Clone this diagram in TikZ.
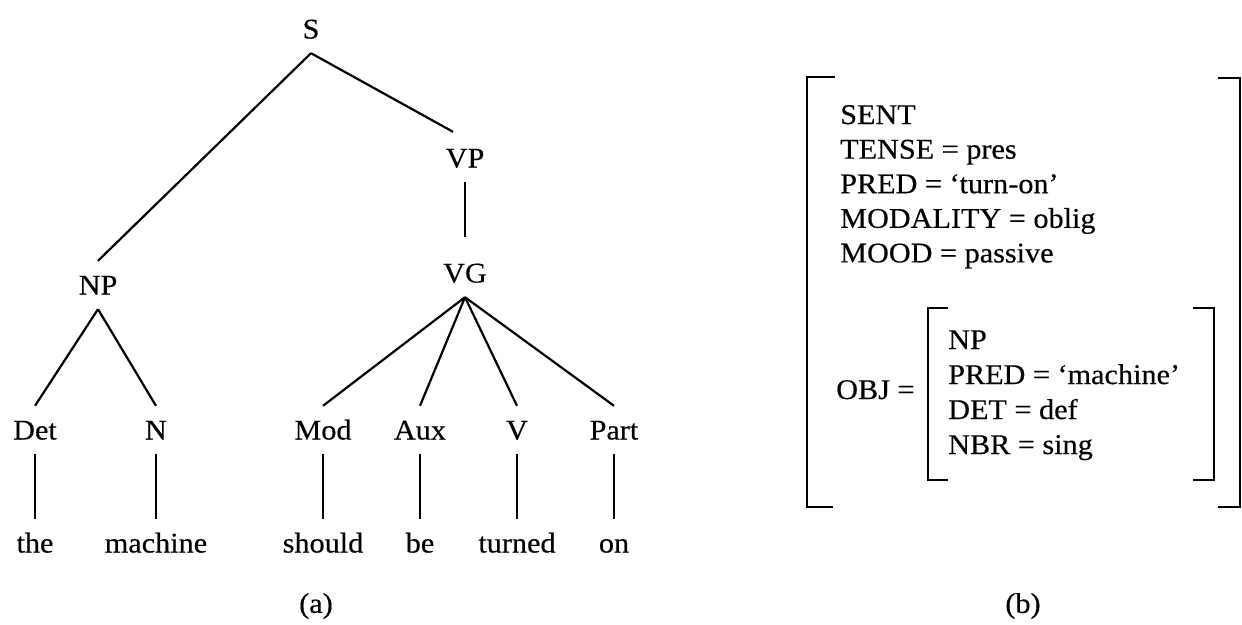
\documentclass[tikz,border=0pt]{standalone}
\usepackage{fontspec}
\setmainfont[FakeStretch=1.06,FakeBold=0.4]{Liberation Serif}
\usepackage{tikz}

\begin{document}
\begin{tikzpicture}
    [
    x=1pt, y=-1pt,
    every node/.style = {font=\fontsize{28.5}{34}\selectfont},
    cat/.style = {inner sep=0pt, text height=19pt, text depth=0pt, minimum height=48pt},
    fs/.style = {anchor=base west, inner sep=0pt},
    edge/.style = {line width=2.2pt},
    brack/.style = {line width=2.4pt}
    ]
\useasboundingbox (0,0) rectangle (1242,624);

% (a) the tree
\node[cat] (s) at (311,29) {S};
\node[cat] (np) at (98,285) {NP};
\node[cat] (vp) at (465,158) {VP};
\node[cat] (vg) at (465,273) {VG};

\node[cat] (det) at (35,430) {Det};
\node[cat] (n) at (156,430) {N};
\node[cat] (mod) at (323,430) {Mod};
\node[cat] (aux) at (420,430) {Aux};
\node[cat] (v) at (517,430) {V};
\node[cat] (part) at (614,430) {Part};

\node[cat] (the) at (35,543) {the};
\node[cat] (machine) at (156,543) {machine};
\node[cat] (should) at (323,543) {should};
\node[cat] (be) at (420,543) {be};
\node[cat] (turned) at (517,543) {turned};
\node[cat] (on) at (614,543) {on};

\draw[edge] (s.south) -- (np.north);
\draw[edge] (s.south) -- ([xshift=-12pt,yshift=2pt]vp.north);
\draw[edge,shorten >=12pt] (vp.south) -- (vg.north);
\draw[edge] (np.south) -- (det.north);
\draw[edge] (np.south) -- (n.north);
\draw[edge] (vg.south) -- (mod.north);
\draw[edge] (vg.south) -- (aux.north);
\draw[edge] (vg.south) -- (v.north);
\draw[edge] (vg.south) -- (part.north);

\draw[edge] (det.south) -- (the.north);
\draw[edge] (n.south) -- (machine.north);
\draw[edge] (mod.south) -- (should.north);
\draw[edge] (aux.south) -- (be.north);
\draw[edge] (v.south) -- (turned.north);
\draw[edge] (part.south) -- (on.north);

\node (capa) at (316,606) {(a)};

% (b) the feature structure
\draw[brack] (835,77) -- (807,77) -- (807,507) -- (833,507);
\draw[brack] (1218,78) -- (1240,78) -- (1240,507) -- (1218,507);

\node[fs] (sent) at (840,124) {SENT};
\node[fs] (tense) at (840,158.6) {TENSE = pres};
\node[fs] (pred) at (840,193.2) {PRED = `turn-on'};
\node[fs] (modality) at (840,227.8) {MODALITY = oblig};
\node[fs] (mood) at (840,262.4) {MOOD = passive};

\node[fs] (obj) at (836,399) {OBJ =};
\draw[brack] (948,308) -- (928,308) -- (928,480) -- (948,480);
\draw[brack] (1193,308) -- (1214,308) -- (1214,480) -- (1193,480);
\node[fs] (objnp) at (948,349) {NP};
\node[fs] (objpred) at (948,384) {PRED = `machine'};
\node[fs] (objdet) at (948,419) {DET = def};
\node[fs] (objnbr) at (948,454) {NBR = sing};

\node (capb) at (1023,606) {(b)};

\end{tikzpicture}
\end{document}
